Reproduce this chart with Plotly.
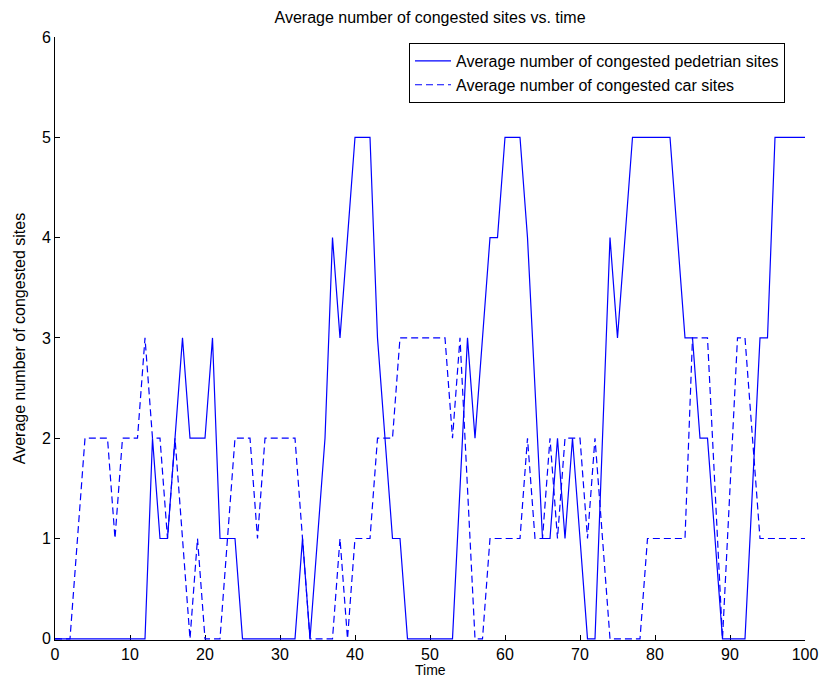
import plotly.graph_objects as go

# ---- data ----
time = list(range(0, 101))

ped_sites = [
    0, 0, 0, 0, 0, 0, 0, 0, 0, 0,      # 0-9
    0, 0, 0, 2, 1, 1, 2, 3, 2, 2,      # 10-19
    2, 3, 1, 1, 1, 0, 0, 0, 0, 0,      # 20-29
    0, 0, 0, 1, 0, 1, 2, 4, 3, 4,      # 30-39
    5, 5, 5, 3, 2, 1, 1, 0, 0, 0,      # 40-49
    0, 0, 0, 0, 1.5, 3, 2, 3, 4, 4,    # 50-59
    5, 5, 5, 4, 2.5, 1, 1, 2, 1, 2,    # 60-69
    1, 0, 0, 2, 4, 3, 4, 5, 5, 5,      # 70-79
    5, 5, 5, 4, 3, 3, 2, 2, 1, 0,      # 80-89
    0, 0, 0, 1.5, 3, 3, 5, 5, 5, 5,    # 90-99
    5,                                  # 100
]

car_sites = [
    0, 0, 0, 1, 2, 2, 2, 2, 1, 2,      # 0-9
    2, 2, 3, 2, 2, 1, 2, 1, 0, 1,      # 10-19
    0, 0, 0, 1, 2, 2, 2, 1, 2, 2,      # 20-29
    2, 2, 2, 1, 0, 0, 0, 0, 1, 0,      # 30-39
    1, 1, 1, 2, 2, 2, 3, 3, 3, 3,      # 40-49
    3, 3, 3, 2, 3, 1.5, 0, 0, 1, 1,    # 50-59
    1, 1, 1, 2, 1, 1, 2, 1, 2, 2,      # 60-69
    2, 1, 2, 1, 0, 0, 0, 0, 0, 1,      # 70-79
    1, 1, 1, 1, 1, 3, 3, 3, 1.5, 0,    # 80-89
    1.5, 3, 3, 2, 1, 1, 1, 1, 1, 1,    # 90-99
    1,                                  # 100
]

x_ticks = list(range(0, 101, 10))
y_ticks = list(range(0, 7))

title_text = "Average number of congested sites vs. time"
x_title = "Time"
y_title = "Average number of congested sites"
ped_name = "Average number of congested pedetrian sites"
car_name = "Average number of congested car sites"

FONT = "Liberation Sans, Arial, Helvetica, sans-serif"
BLUE = "#0000ff"

fig = go.Figure()
fig.add_trace(go.Scatter(
    x=time, y=ped_sites, mode="lines", name=ped_name,
    line=dict(color=BLUE, width=1.2),
))
fig.add_trace(go.Scatter(
    x=time, y=car_sites, mode="lines", name=car_name,
    line=dict(color=BLUE, width=1.2, dash="7px,4px"),
))

axis_common = dict(
    showgrid=False, zeroline=False, showline=True, linecolor="black",
    linewidth=1, mirror=False, ticks="inside", ticklen=5, tickwidth=1,
    tickcolor="black", tickfont=dict(family=FONT, size=16, color="black"),
    layer="below traces", automargin=False,
)

fig.update_layout(
    width=827, height=678, autosize=False,
    margin=dict(l=55, r=22, t=37, b=38, pad=0),
    paper_bgcolor="white", plot_bgcolor="white",
    font=dict(family=FONT, size=16, color="black"),
    title=dict(text=title_text, x=0.52, xanchor="center", y=1 - 17 / 678,
               yanchor="middle", font=dict(family=FONT, size=16, color="black")),
    xaxis=dict(range=[0, 100], tickvals=x_ticks, **axis_common),
    yaxis=dict(range=[-0.012, 6], tickvals=y_ticks, **axis_common,
               title=dict(text=y_title, standoff=12,
                          font=dict(family=FONT, size=16, color="black"))),
    legend=dict(x=0.472, y=0.99, xanchor="left", yanchor="top",
                bgcolor="white", bordercolor="black", borderwidth=1,
                font=dict(family=FONT, size=16, color="black"),
                tracegroupgap=0, itemwidth=36),
    showlegend=True,
)

# x-axis title, placed low as in the reference
fig.add_annotation(
    text=x_title, xref="paper", yref="paper", x=0.5, y=-(670 - 640) / 603,
    xanchor="center", yanchor="middle", showarrow=False,
    font=dict(family=FONT, size=14, color="black"),
)

fig.write_html("out.html")
